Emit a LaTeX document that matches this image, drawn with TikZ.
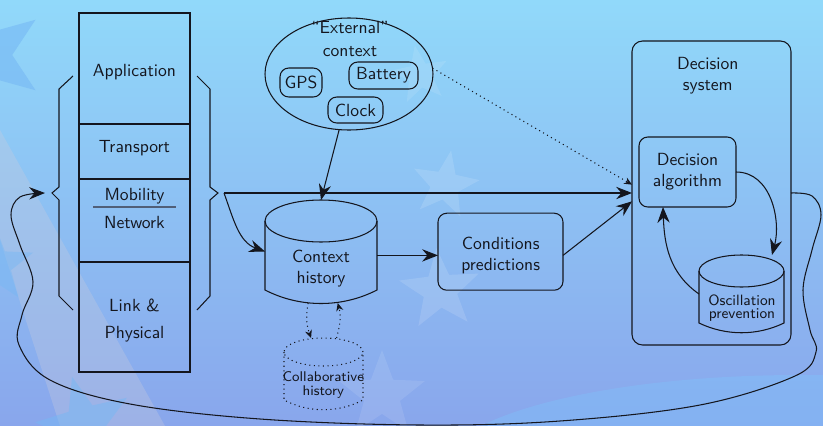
\documentclass[tikz,border=0pt]{standalone}
\usepackage{fontspec}
\usetikzlibrary{arrows.meta,shapes.geometric,calc}

\newcommand\unitpx{0.5687pt}
\definecolor{bgtop}{RGB}{145,217,250}
\definecolor{bgmid}{RGB}{141,196,245}
\definecolor{bgbot}{RGB}{137,166,236}
\definecolor{starblue}{RGB}{118,184,244}
\definecolor{bandgray}{RGB}{205,205,220}
\definecolor{lightpool}{RGB}{128,192,250}
\definecolor{ink}{RGB}{20,22,30}
\definecolor{rulegray}{RGB}{80,95,120}

% five-pointed background star: x, y, outer radius, rotation, fill options
\newcommand\bgstar[5]{%
  \fill[#5] plot[samples at={0,...,9}, variable=\k]
    ({#1+#3*(1-0.58*mod(\k,2))*cos(90+#4+36*\k)},
     {#2+#3*(1-0.58*mod(\k,2))*sin(90+#4+36*\k)}) -- cycle;}

\begin{document}
\begin{tikzpicture}[x=\unitpx, y=\unitpx,
  every node/.style={font=\sffamily\fontsize{10}{12}\selectfont, text=ink,
    inner sep=0pt, outer sep=0pt, align=center},
  sz/.style 2 args={minimum width=#1*\unitpx, minimum height=#2*\unitpx},
  edge/.style={draw=ink, line width=0.6pt},
  layer/.style={edge},
  rbox/.style={edge, rounded corners=5pt},
  flow/.style={draw=ink, line width=0.6pt, -{Stealth[length=9pt,width=7pt,inset=3pt]}},
  hint/.style={draw=ink, line width=0.6pt, dotted, -{Stealth[length=4.5pt,width=4pt]}},
  smalltext/.style={font=\sffamily\fontsize{8.5}{7.3}\selectfont},
  tinytext/.style={font=\sffamily\fontsize{8}{8.1}\selectfont},
]
\useasboundingbox (0,0) rectangle (823,-426);

% ---------- background ----------
\begin{scope}
  \clip (0,0) rectangle (823,-426);
  \shade[top color=bgtop, middle color=bgmid, bottom color=bgbot] (0,0) rectangle (823,-426);
  \fill[bandgray, opacity=0.3] (0,-130) -- (165,-426) -- (60,-426) -- (0,-240) -- cycle;
  \fill[lightpool, opacity=0.45] (800,-470) ellipse [x radius=360, y radius=95];
  \bgstar{-13}{-55}{60}{18}{starblue, opacity=0.6}
  \bgstar{-5}{-265}{40}{0}{starblue, opacity=0.45}
  \bgstar{85}{-425}{50}{15}{starblue, opacity=0.5}
  \bgstar{420}{-75}{30}{10}{white, opacity=0.1}
  \bgstar{445}{-185}{35}{-10}{white, opacity=0.13}
  \bgstar{440}{-290}{42}{5}{white, opacity=0.13}
  \bgstar{382}{-395}{45}{0}{white, opacity=0.1}
\end{scope}

% ---------- protocol stack ----------
\node[layer, sz={111}{111}] (app) at (134.5,-68.5) {};
\node[layer, sz={111}{55}]  (tra) at (134.5,-151.5) {};
\node[layer, sz={111}{83}]  (mob) at (134.5,-220.5) {};
\node[layer, sz={111}{110}] (lnk) at (134.5,-317) {};
\node[anchor=base] (appt) at (134.5,-76) {Application};
\node[anchor=base] (trat) at (134.5,-152.7) {Transport};
\node[anchor=base] (mobt) at (134.5,-200) {Mobility};
\node[anchor=base] (nett) at (134.5,-228.3) {Network};
\draw[rulegray, line width=0.7pt] (93,-207) -- (176,-207);
\node[anchor=base] (lnkt) at (134.5,-311.7) {Link \&};
\node[anchor=base] (phyt) at (134.5,-338.3) {Physical};

% braces around the lower layers
\coordinate (lbr) at (52,-193);
\coordinate (rbr) at (218,-193);
\coordinate (lin) at (45,-193);
\coordinate (fork) at (224,-193);
\draw[edge] (73,-76) -- (59,-89) -- (59,-187) -- (lbr) -- (59,-200) -- (59,-296) -- (73,-310);
\draw[edge] (197,-76) -- (210,-89) -- (210,-187) -- (rbr) -- (210,-200) -- (210,-296) -- (197,-310);

% ---------- external context ----------
\node[edge, ellipse, sz={168}{112}] (ext) at (349,-74) {};
\node (extt) at (350,-38.7) {“External”\\[1pt]context};
\node[rbox, sz={42}{29}] (gps) at (301,-82.5) {GPS};
\node[rbox, sz={69}{27}] (bat) at (383.5,-75.5) {Battery};
\node[rbox, sz={55}{26}] (clk) at (355.5,-110) {Clock};

% ---------- context history ----------
\node[sz={112}{103}] (ctx) at (321,-251.5) {};
\draw[edge] (ctx.north) ++(0,-21) ellipse [x radius=56, y radius=21];
\draw[edge] (ctx.north west) ++(0,-21) -- ++(0,-69)
  .. controls +(35,-18) and +(-35,-18) .. ++(112,0) -- ++(0,69);
\node (ctxt) at (321,-268.4) {Context\\history};

% ---------- collaborative history ----------
\node[sz={79}{72}] (coll) at (323.5,-374) {};
\draw[edge, dotted] (coll.north) ++(0,-14) ellipse [x radius=39.5, y radius=14];
\draw[edge, dotted] (coll.north west) ++(0,-14) -- ++(0,-48)
  .. controls +(25,-13) and +(-25,-13) .. ++(79,0) -- ++(0,48);
\node[tinytext] (collt) at (323.3,-385.3) {Collaborative\\history};

% ---------- conditions predictions ----------
\node[rbox, sz={125}{77}] (cond) at (500.5,-251.7) {};
\node (condt) at (500.7,-255.4) {Conditions\\predictions};

% ---------- decision system ----------
\node[rbox, rounded corners=6pt, sz={159}{304}] (dec) at (711.5,-193) {};
\node (dect) at (707.8,-75.5) {Decision\\system};
\node[rbox, sz={97}{70}] (algo) at (687.5,-172) {Decision\\algorithm};
\node[sz={85}{78}] (osc) at (741.5,-294) {};
\draw[edge] (osc.north) ++(0,-16) ellipse [x radius=42.5, y radius=16];
\draw[edge] (osc.north west) ++(0,-16) -- ++(0,-52)
  .. controls +(27,-13) and +(-27,-13) .. ++(85,0) -- ++(0,52);
\node[smalltext] (osct) at (742,-307.7) {Oscillation\\prevention};

% ---------- connectors ----------
\draw[flow] (ext.260) -- (ctx.north);
\draw[hint] (ext.4) -- (dec.174);
\draw[flow] (fork) -- (dec.west);
\draw[flow] (fork) to[out=-70,in=160] (ctx.west);
\draw[flow] (ctx.east |- condt.center) -- (cond.west |- condt.center);
\draw[flow] (cond.east |- condt.center) -- (dec.186);
\draw[flow] (algo.east) to[out=0,in=75] (osc.52);
\draw[flow] (osc.west) to[out=145,in=-88] (algo.235);
\draw[hint] (ctx.256) to[out=-100,in=110] (coll.109);
\draw[hint] (coll.70) to[out=75,in=-75] (ctx.-72);

% feedback loop from the decision system back to the stack
\draw[flow] plot[smooth, tension=0.6] coordinates {
  (dec.east) (812,-196) (821,-215) (812,-250) (803,-290) (810,-330)
  (816,-352) (795,-376) (700,-405) (560,-421) (420,-425) (260,-419)
  (130,-404) (50,-380) (19,-345) (22,-315) (33,-282) (20,-245)
  (11,-215) (20,-197) (lin)};
\end{tikzpicture}
\end{document}
